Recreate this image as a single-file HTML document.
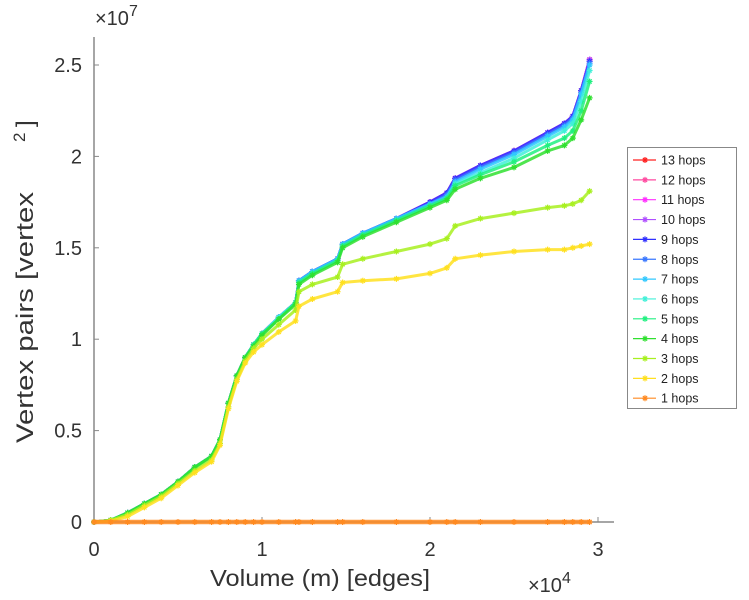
<!DOCTYPE html>
<html><head><meta charset="utf-8"><style>
body{margin:0;background:#fff;}
svg{display:block;font-family:"Liberation Sans",sans-serif;}
</style></head><body>
<svg id="chart" width="749" height="600" viewBox="0 0 749 600">
<g id="axes"></g>
<g id="plot"></g>
<g id="legend"></g>
<text x="95" y="25" font-size="20" fill="#333">×10<tspan font-size="16" dy="-9">7</tspan></text>
<text x="528" y="592" font-size="20" fill="#333">×10<tspan font-size="16" dy="-9">4</tspan></text>
<text x="210" y="586" font-size="23" fill="#333" textLength="220" lengthAdjust="spacingAndGlyphs">Volume (m) [edges]</text>
<g transform="translate(33,443) rotate(-90)">
 <text x="0" y="0" font-size="24" fill="#333" textLength="251" lengthAdjust="spacingAndGlyphs">Vertex pairs [vertex</text>
 <text x="301" y="-8" font-size="17" fill="#333">2</text>
 <text x="316" y="0" font-size="24" fill="#333">]</text>
</g>
</svg>
<script>
const xVals = [0,0.1,0.2,0.3,0.4,0.5,0.6,0.7,0.75,0.8,0.85,0.9,0.95,1.0,1.1,1.2,1.22,1.3,1.45,1.48,1.6,1.8,2.0,2.1,2.15,2.3,2.5,2.7,2.8,2.85,2.9,2.95];
const hop13 = [0,0.01,0.05,0.1,0.15,0.22,0.3,0.36,0.45,0.65,0.8,0.9,0.97,1.03,1.12,1.2,1.32,1.37,1.44,1.52,1.58,1.66,1.75,1.8,1.88,1.95,2.03,2.13,2.18,2.22,2.36,2.53];
const hop12 = [0,0.01,0.05,0.1,0.15,0.22,0.3,0.36,0.45,0.65,0.8,0.9,0.97,1.03,1.12,1.2,1.32,1.37,1.44,1.52,1.58,1.66,1.75,1.8,1.88,1.95,2.03,2.13,2.18,2.22,2.36,2.53];
const hop11 = [0,0.01,0.05,0.1,0.15,0.22,0.3,0.36,0.45,0.65,0.8,0.9,0.97,1.03,1.12,1.2,1.32,1.37,1.44,1.52,1.58,1.66,1.75,1.8,1.88,1.95,2.03,2.13,2.18,2.22,2.36,2.53];
const hop10 = [0,0.01,0.05,0.1,0.15,0.22,0.3,0.36,0.45,0.65,0.8,0.9,0.97,1.03,1.12,1.2,1.32,1.37,1.44,1.52,1.58,1.66,1.75,1.8,1.88,1.95,2.03,2.13,2.18,2.22,2.36,2.53];
const hop9 = [0,0.01,0.05,0.1,0.15,0.22,0.3,0.36,0.45,0.65,0.8,0.9,0.97,1.03,1.12,1.2,1.32,1.37,1.44,1.52,1.58,1.66,1.75,1.8,1.88,1.95,2.03,2.13,2.18,2.22,2.36,2.52];
const hop8 = [0,0.01,0.05,0.1,0.15,0.22,0.3,0.36,0.45,0.65,0.8,0.9,0.97,1.03,1.12,1.2,1.32,1.37,1.44,1.52,1.58,1.66,1.74,1.79,1.87,1.94,2.02,2.12,2.17,2.21,2.35,2.51];
const hop7 = [0,0.01,0.05,0.1,0.15,0.22,0.3,0.36,0.45,0.65,0.8,0.9,0.97,1.03,1.12,1.2,1.32,1.37,1.44,1.52,1.58,1.66,1.74,1.78,1.86,1.93,2.01,2.11,2.16,2.2,2.34,2.5];
const hop6 = [0,0.01,0.05,0.1,0.15,0.22,0.3,0.36,0.45,0.65,0.8,0.9,0.97,1.03,1.12,1.2,1.31,1.36,1.43,1.51,1.57,1.65,1.73,1.77,1.85,1.91,1.99,2.09,2.14,2.18,2.3,2.47];
const hop5 = [0,0.01,0.05,0.1,0.15,0.22,0.3,0.36,0.45,0.65,0.8,0.9,0.97,1.03,1.11,1.2,1.31,1.36,1.43,1.51,1.57,1.65,1.73,1.77,1.84,1.9,1.97,2.06,2.1,2.14,2.25,2.41];
const hop4 = [0,0.01,0.05,0.1,0.15,0.22,0.3,0.36,0.45,0.65,0.8,0.9,0.96,1.02,1.11,1.19,1.3,1.35,1.42,1.5,1.56,1.64,1.72,1.76,1.82,1.88,1.94,2.03,2.06,2.1,2.2,2.32];
const hop3 = [0,0.01,0.04,0.09,0.14,0.21,0.28,0.34,0.43,0.63,0.78,0.88,0.95,1.0,1.08,1.16,1.26,1.3,1.34,1.41,1.44,1.48,1.52,1.55,1.62,1.66,1.69,1.72,1.73,1.74,1.76,1.81];
const hop2 = [0,0.005,0.03,0.08,0.13,0.2,0.27,0.33,0.42,0.62,0.77,0.87,0.93,0.97,1.04,1.1,1.18,1.22,1.26,1.31,1.32,1.33,1.36,1.39,1.44,1.46,1.48,1.49,1.49,1.5,1.51,1.52];
const hop1 = [0,0,0,0,0,0,0,0,0,0,0,0,0,0,0,0,0,0,0,0,0,0,0,0,0,0,0,0,0,0,0,0];
const seriesLabels = ["13 hops","12 hops","11 hops","10 hops","9 hops","8 hops","7 hops","6 hops","5 hops","4 hops","3 hops","2 hops","1 hops"];
const xTicks = [0,1,2,3];
const yTicks = [0,0.5,1,1.5,2,2.5];
const yTickLabels = ["0","0.5","1","1.5","2","2.5"];

const series=[hop13,hop12,hop11,hop10,hop9,hop8,hop7,hop6,hop5,hop4,hop3,hop2,hop1];
const colors=["#ff2020","#ff4aa0","#ff30ff","#b050ff","#3030ff","#3a78ff","#30c8ff","#40f0d8","#20f080","#30e030","#a8f020","#ffe020","#ff8a20"];
const NS="http://www.w3.org/2000/svg";
const X=v=>94+v*168, Y=v=>522-v*182.8;
function mk(t,a,p){const e=document.createElementNS(NS,t);for(const k in a)e.setAttribute(k,a[k]);p.appendChild(e);return e;}
const axes=document.getElementById('axes'),plot=document.getElementById('plot'),leg=document.getElementById('legend');
let l=mk('line',{x1:94,y1:37,x2:94,y2:522,stroke:'#888','stroke-width':1.5},axes);


l=mk('line',{x1:94,y1:522,x2:614,y2:522,stroke:'#888','stroke-width':1.5},axes);


yTicks.forEach((v,i)=>{
 let t=mk('line',{x1:94,y1:Y(v),x2:99,y2:Y(v),stroke:'#888'},axes);
 
 
 let tx=mk('text',{x:82,y:Y(v)+7,'text-anchor':'end','font-size':20,fill:'#333'},axes);tx.textContent=yTickLabels[i];
 
 
});
xTicks.forEach(v=>{
 let t=mk('line',{x1:X(v),y1:522,x2:X(v),y2:517,stroke:'#888'},axes);
 
 
 let tx=mk('text',{x:X(v),y:556,'text-anchor':'middle','font-size':20,fill:'#333'},axes);tx.textContent=String(v);
 
 
});
function star(g,x,y,c,s){
 mk('path',{d:`M${x-s},${y}H${x+s}M${x},${y-s}V${y+s}M${x-s*.7},${y-s*.7}L${x+s*.7},${y+s*.7}M${x-s*.7},${y+s*.7}L${x+s*.7},${y-s*.7}`,stroke:c,'stroke-width':1.2,fill:'none'},g);
}
for(let k=0;k<series.length;k++){
 const g=mk('g',{},plot);
 
 
 const d=series[k].map((v,i)=>(i?'L':'M')+X(xVals[i]).toFixed(1)+','+Y(v).toFixed(1)).join('');
 mk('path',{d:d,stroke:colors[k],'stroke-width':k==12?4.5:3,fill:'none','stroke-linejoin':'round','stroke-opacity':0.85},g);
 series[k].forEach((v,i)=>star(g,X(xVals[i]),Y(v),colors[k],3));
}
mk('rect',{x:627.5,y:147.5,width:109,height:261,fill:'#fff',stroke:'#888'},leg);
seriesLabels.forEach((s,i)=>{
 const y=160+i*19.85;
 const g=mk('g',{},leg);
 
 
 mk('line',{x1:633,y1:y,x2:656,y2:y,stroke:colors[i],'stroke-width':1.2},g);
 star(g,645,y,colors[i],3);
 const t=mk('text',{x:661,y:y+4.5,'font-size':12.5,fill:'#222'},g);t.textContent=s;
});
</script>
</body></html>
